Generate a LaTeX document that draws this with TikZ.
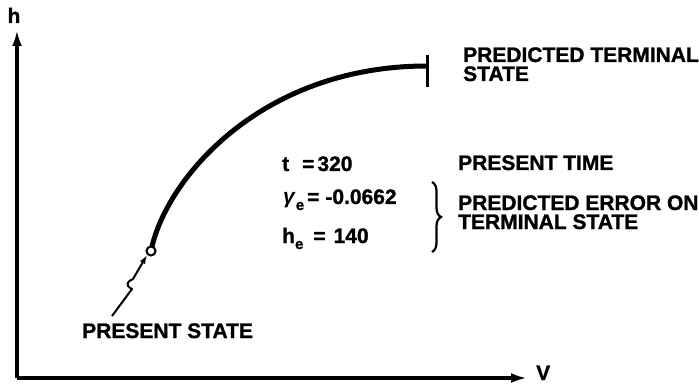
\documentclass[tikz,border=0pt]{standalone}
\usepackage{fontspec}
\setmainfont{Liberation Sans}[BoldFeatures={FakeBold=1.2}]
\usetikzlibrary{arrows.meta,decorations.pathreplacing}
\newcommand{\lblfont}{\fontsize{21}{20}\selectfont\bfseries}
\newcommand{\lowsub}[1]{\raisebox{-6pt}{\fontsize{15}{15}\selectfont #1}}
\tikzset{
  lbl/.style={inner sep=0pt, anchor=base west, font=\lblfont},
  axisline/.style={-{Latex[length=16pt,width=10pt]}, line width=3.2pt},
  track/.style={line width=5pt},
  stopbar/.style={line width=3pt},
  pointer/.style={-{Latex[length=9pt,width=6pt]}, line width=2pt, line join=round},
  statedot/.style={circle, draw, line width=2pt, fill=white, minimum size=9pt, inner sep=0pt},
  bracelbl/.style={decorate, decoration={brace, amplitude=9pt}, line width=2.2pt},
}

\begin{document}
\begin{tikzpicture}[x=1pt, y=-1pt]
\useasboundingbox (0,0) rectangle (699,385);

% axes
\coordinate (orig) at (17,378);
\coordinate (htip) at (17,30);
\coordinate (vtip) at (527,378);
\draw[axisline] (orig) -- (htip);
\draw[axisline] (orig) -- (vtip);
\node[lbl, anchor=base] (hlab) at (14,23) {h};
\node[lbl] (vlab) at (536,380) {V};

% trajectory to the terminal state
\coordinate (nowpt) at (151,251);
\coordinate (tend) at (427,66);
\coordinate (bartop) at (427,55);
\coordinate (barbot) at (427,87);
\draw[track] (nowpt) .. controls (165,180) and (260,66) .. (tend);
\draw[stopbar] (bartop) -- (barbot);
\node[statedot] (now) at (nowpt) {};

\node[lbl] (termlab) at (463,62) {PREDICTED TERMINAL};
\node[lbl] (termlabb) at (463,81) {STATE};

% present values
\node[lbl] (tnow) at (282,171) {t\hspace{13pt}=\hspace{3pt}320};
\node[lbl] (gerr) at (283,204) {\textit{γ}\lowsub{e}\hspace{3pt}=\hspace{6pt}-0.0662};
\node[lbl] (herr) at (282,243) {h\lowsub{e}\hspace{10pt}=\hspace{8pt}140};

\node[lbl] (timelab) at (458,170) {PRESENT TIME};
\coordinate (bracetop) at (432,182);
\coordinate (bracebot) at (432,252);
\draw[bracelbl] (bracetop) -- (bracebot);
\node[lbl] (errlab) at (458,210) {PREDICTED ERROR ON};
\node[lbl] (errlabb) at (458,229) {TERMINAL STATE};

% present state
\node[lbl] (statelab) at (82,338) {PRESENT STATE};
\coordinate (ptail) at (112,316);
\draw[pointer] (ptail) -- (132,289) .. controls (124,285) and (128,281) .. (133,279) -- (now.225);

\end{tikzpicture}
\end{document}
